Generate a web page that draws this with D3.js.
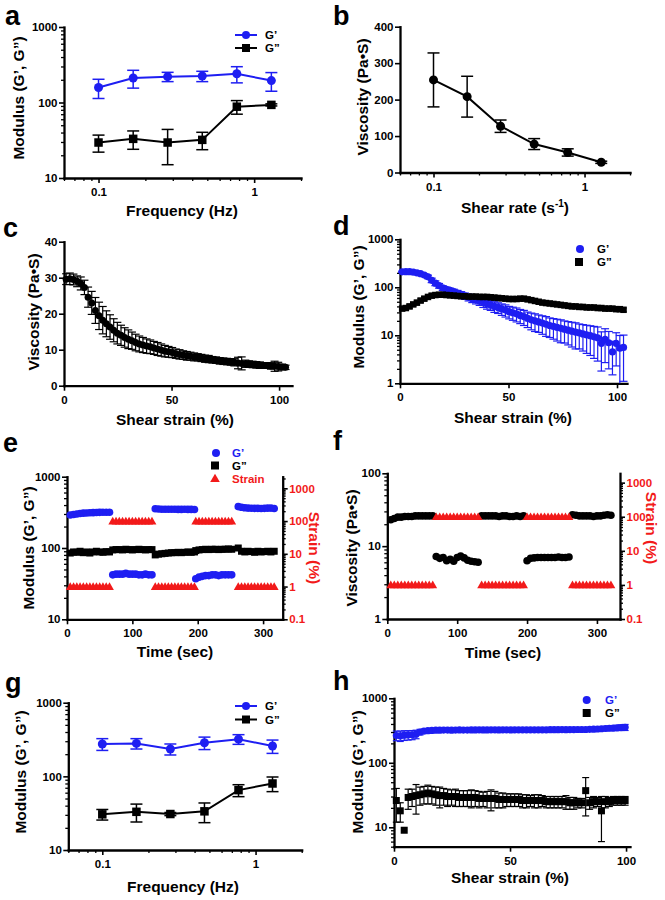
<!DOCTYPE html>
<html><head><meta charset="utf-8">
<script src="https://cdn.jsdelivr.net/npm/d3@7"></script>
<style>
body{margin:0;background:#fff;}
svg{display:block;}
text{font-family:"Liberation Sans", Arial, Helvetica, sans-serif;font-weight:bold;}
</style></head><body>
<svg id="fig" width="665" height="900"></svg>
<script>
// ---------------- DATA ----------------
// a, b, g : frequency / shear-rate sweeps
const freq = [0.1, 0.167, 0.278, 0.464, 0.774, 1.29];
const aGp = [158, 211, 220, 224, 240, 195];
const aGpSd = [45, 56, 31, 35, 58, 54];
const aGpp = [29.5, 33, 29.5, 32, 88, 93];
const aGppSd = [7.5, 9, 14.5, 8.3, 18, 3];
const bVisc = [254, 208, 127, 78, 55, 28];
const bSd = [74, 56, 17, 15, 10, 3];
const gGp = [275, 280, 235, 286, 320, 258];
const gGpSd = [50, 45, 40, 55, 48, 53];
const gGpp = [30.5, 33, 30.8, 33.5, 65, 80];
const gGppSd = [5, 9, 1.5, 10, 12, 18];

// c, d, h : strain sweeps
const sweepStrain = [1, 2.7, 4.4, 6.1, 7.8, 9.5, 11.2, 12.9, 14.6, 16.3,
  18, 19.7, 21.4, 23.1, 24.8, 26.5, 28.2, 29.9, 31.6, 33.3,
  35, 36.7, 38.4, 40.1, 41.8, 43.5, 45.2, 46.9, 48.6, 50.3,
  52, 53.7, 55.4, 57.1, 58.8, 60.5, 62.2, 63.9, 65.6, 67.3,
  69, 70.7, 72.4, 74.1, 75.8, 77.5, 79.2, 80.9, 82.6, 84.3,
  86, 87.7, 89.4, 91.1, 92.8, 94.5, 96.2, 97.9, 99.6, 101.3,
  103];
const cVisc = [29.6, 29.7, 29.5, 29.0, 28.4, 27.3, 24.6, 23.0, 20.9, 19.4,
  18.2, 17.2, 16.3, 15.4, 14.6, 14.0, 13.4, 12.9, 12.5, 12.0,
  11.6, 11.3, 11.0, 10.8, 10.5, 10.2, 9.9, 9.6, 9.4, 9.2,
  8.9, 8.7, 8.5, 8.3, 8.2, 8.0, 7.9, 7.7, 7.5, 7.4,
  7.2, 7.1, 6.9, 6.8, 6.7, 6.6, 6.5, 6.3, 6.2, 6.1,
  6.0, 5.9, 5.8, 5.7, 5.6, 5.6, 5.5, 5.4, 5.3, 5.2,
  5.1];
const cSd = [1.5, 1.6, 1.5, 1.5, 1.8, 2.0, 2.8, 3.2, 3.6, 3.8,
  3.8, 3.6, 3.4, 3.2, 3.0, 2.8, 2.7, 2.6, 2.4, 2.3,
  2.2, 2.1, 2.0, 1.9, 1.8, 1.8, 1.7, 1.6, 1.5, 1.4,
  1.3, 1.3, 1.2, 1.2, 1.1, 1.1, 1.0, 1.0, 1.0, 1.0,
  0.9, 0.9, 0.9, 0.9, 0.9, 0.9, 1.0, 1.6, 1.8, 1.0,
  0.9, 0.9, 0.9, 0.9, 0.8, 0.8, 0.9, 1.4, 1.2, 0.8,
  0.6];
const dGp = [210, 212, 212, 208, 200, 192, 180, 165, 140, 122,
  108, 97, 91, 86, 81, 76, 71, 66, 62, 58,
  55, 52, 48, 45, 43, 40, 38, 35.5, 33.5, 31,
  29.5, 28, 26, 24.5, 22.5, 21, 20, 19, 18, 17,
  16, 15.3, 14.6, 14, 13.4, 12.8, 12.2, 11.7, 11.2, 10.7,
  10.2, 9.8, 9.3, 8.9, 6.8, 8.2, 7.0, 4.5, 6.8, 5.4,
  5.6];
const dGpSd = [6, 6, 6, 7, 8, 10, 12, 14, 15, 14,
  12, 11, 10, 10, 10, 10, 10, 10, 10, 10,
  10, 10, 10, 10, 10, 10, 9.5, 9.5, 9.5, 9,
  9, 9, 8.5, 8.5, 8, 8, 8, 7.5, 7.5, 7.5,
  7, 7, 7, 7, 6.5, 6.5, 6.5, 6.5, 6, 6,
  6, 6, 6, 6, 5, 5.5, 5, 3, 4.5, 4.5,
  4.5];
const dGpp = [36, 37, 40, 44, 48, 53, 58, 63, 67, 69,
  70, 70, 69, 68, 67, 66, 65, 65, 64, 64,
  64, 63, 63, 63, 62, 61, 60, 59, 58, 57,
  57, 57, 58, 58, 56, 54, 52, 50, 48, 47,
  46, 45, 44, 43, 42, 41, 40, 40, 39, 39,
  38, 38, 38, 37, 37, 36, 36, 36, 35, 35,
  34];
const dGppSd = [3, 3, 4, 4, 5, 5, 5, 6, 6, 5,
  5, 5, 5, 4, 4, 4, 4, 4, 4, 4,
  4, 4, 4, 4, 4, 4, 3, 3, 3, 3,
  3, 3, 4, 4, 3, 3, 3, 3, 3, 3,
  3, 3, 3, 3, 3, 3, 3, 3, 3, 3,
  3, 3, 3, 3, 3, 3, 3, 3, 3, 3,
  3];
const hGp = [265, 262, 268, 270, 272, 278, 300, 310, 315, 318,
  320, 320, 322, 322, 320, 322, 323, 322, 322, 323,
  323, 324, 323, 323, 324, 324, 323, 324, 324, 323,
  324, 325, 324, 324, 325, 325, 324, 325, 325, 326,
  326, 326, 327, 326, 327, 327, 328, 328, 328, 330,
  332, 334, 337, 340, 343, 346, 349, 352, 355];
const hGpSd = [45, 48, 46, 45, 44, 42, 30, 20, 15, 12,
  10, 10, 10, 10, 10, 10, 10, 10, 10, 10,
  10, 10, 10, 10, 10, 10, 10, 10, 10, 10,
  10, 10, 10, 10, 10, 10, 10, 10, 10, 10,
  10, 10, 10, 10, 10, 10, 10, 10, 10, 12,
  15, 18, 20, 25, 28, 30, 32, 35, 38];
const hGpp = [26, 18, 9, 29, 30, 31, 32, 33, 34, 33,
  32, 31, 31, 30, 30, 30, 29, 29, 29, 29,
  29, 28, 28, 28, 28, 28, 27, 27, 27, 27,
  27, 27, 26, 26, 26, 26, 26, 26, 25, 25,
  25, 25, 25, 25, 24, 24, 24, 24, 37, 24,
  25, 25, 18, 25, 25, 26, 26, 26, 26];
const hGppSd = [14, 6, 0, 10, 9, 15, 10, 10, 11, 10,
  10, 11, 9, 9, 8, 9, 8, 8, 8, 9,
  8, 8, 7, 8, 10, 8, 7, 7, 6, 6,
  6, 6, 6, 6, 5, 6, 6, 5, 5, 5,
  5, 5, 5, 6, 5, 5, 4, 4, 22, 5,
  5, 4, 12, 5, 4, 4, 4, 4, 4];

// e, f : step-strain time sweeps
const eTime = [5, 10, 15, 20, 25, 30, 35, 40, 45, 50, 55, 60, 65,
  70, 75, 80, 85, 90, 95, 100, 105, 110, 115, 120, 125, 130,
  135, 140, 145, 150, 155, 160, 165, 170, 175, 180, 185, 190, 195,
  197, 202, 207, 212, 217, 222, 227, 232, 237, 242, 247, 252,
  262, 267, 272, 277, 282, 287, 292, 297, 302, 307, 312, 317];
const eGp = [290, 295, 300, 305, 308, 310, 312, 313, 315, 316, 317, 318, 318,
  42, 43, 43, 43, 44, 43, 43, 43, 42, 42, 43, 42, 42,
  355, 352, 350, 350, 350, 349, 350, 348, 348, 349, 348, 348, 347,
  37, 39, 40, 41, 41, 42, 42, 41, 42, 42, 42, 42,
  380, 372, 366, 363, 361, 360, 360, 358, 360, 362, 363, 358];
const eGpp = [85, 88, 87, 90, 86, 88, 85, 88, 90, 88, 87, 89, 88,
  94, 95, 95, 94, 96, 95, 94, 95, 96, 95, 94, 95, 95,
  80, 82, 83, 84, 85, 86, 86, 87, 86, 87, 88, 87, 88,
  92, 94, 95, 96, 95, 96, 96, 95, 96, 96, 97, 96,
  100, 90, 88, 90, 89, 87, 90, 88, 89, 90, 88, 90];
const eStrain = [1, 1, 1, 1, 1, 1, 1, 1, 1, 1, 1, 1, 1,
  100, 100, 100, 100, 100, 100, 100, 100, 100, 100, 100, 100, 100,
  1, 1, 1, 1, 1, 1, 1, 1, 1, 1, 1, 1, 1,
  100, 100, 100, 100, 100, 100, 100, 100, 100, 100, 100, 100,
  1, 1, 1, 1, 1, 1, 1, 1, 1, 1, 1, 1];
const fTime = [5, 10, 15, 20, 25, 30, 35, 40, 45, 50, 55, 60, 65,
  70, 75, 80, 85, 90, 95, 100, 105, 110, 115, 120, 125, 130,
  135, 140, 145, 150, 155, 160, 165, 170, 175, 180, 185, 190, 195,
  200, 205, 210, 215, 220, 225, 230, 235, 240, 245, 250, 255, 260,
  265, 270, 275, 280, 285, 290, 295, 300, 305, 310, 315, 320];
const fVisc = [23, 24, 25, 25, 25.5, 25.5, 25.5, 26, 26, 26, 26, 26, 26,
  7.2, 6.8, 7.0, 6.3, 6.6, 6.2, 7.0, 7.3, 6.9, 6.4, 6.2, 6.1, 6.0,
  26, 26, 26, 26, 26, 25.5, 26, 26, 25.5, 25.5, 26, 25.5, 26,
  6.3, 6.8, 6.9, 7.0, 7.0, 7.0, 7.0, 7.0, 7.0, 7.1, 7.0, 7.0, 7.1,
  27, 26.5, 26, 26, 26, 26, 25.5, 26, 26, 26.5, 27, 26.5];
const fStrain = [1, 1, 1, 1, 1, 1, 1, 1, 1, 1, 1, 1, 1,
  100, 100, 100, 100, 100, 100, 100, 100, 100, 100, 100, 100, 100,
  1, 1, 1, 1, 1, 1, 1, 1, 1, 1, 1, 1, 1,
  100, 100, 100, 100, 100, 100, 100, 100, 100, 100, 100, 100, 100,
  1, 1, 1, 1, 1, 1, 1, 1, 1, 1, 1, 1];

// tick labels
const freqTicks = [0.1, 1];
const modTicks = [10, 100, 1000];
const modTicksD = [1, 10, 100, 1000];
const viscTicksB = [0, 100, 200, 300, 400];
const viscTicksC = [0, 10, 20, 30, 40];
const viscTicksF = [1, 10, 100];
const strainTicks = [0, 50, 100];
const timeTicks = [0, 100, 200, 300];
const strainPctTicks = [0.1, 1, 10, 100, 1000];

// ---------------- HELPERS ----------------
const svg = d3.select("#fig");
const BLUE = "#1e1ef2", RED = "#f21a1a", BLACK = "#000";
const FT_TICK = 11.5, FT_TITLE = 15.5, FT_LET = 27, FT_LEG = 11.5;

function logMinors(dom) {
  const out = [];
  const lo = Math.floor(Math.log10(dom[0])) - 1, hi = Math.ceil(Math.log10(dom[1]));
  for (let e = lo; e <= hi; e++) for (let m = 2; m <= 9; m++) {
    const v = +(m * Math.pow(10, e)).toPrecision(6);
    if (v >= dom[0] * 0.9999 && v <= dom[1] * 1.0001) out.push(v);
  }
  return out;
}
const fmt = d => String(d);

function axis(kind, scale, pos, majors, minors, color) {
  const gen = kind === "left" ? d3.axisLeft : kind === "right" ? d3.axisRight : d3.axisBottom;
  const g = svg.append("g").attr("transform", kind === "bottom" ? `translate(0,${pos})` : `translate(${pos},0)`);
  if (minors) {
    const m = g.append("g").call(gen(scale).tickValues(minors).tickSize(3).tickSizeOuter(0).tickFormat(""));
    m.select(".domain").remove();
    m.selectAll(".tick line").attr("stroke", "#000").attr("stroke-width", 1.3);
  }
  const a = g.append("g").call(gen(scale).tickValues(majors).tickSize(5)
    .tickPadding(kind === "bottom" ? 5 : 1.5).tickSizeOuter(0).tickFormat(fmt));
  a.select(".domain").attr("stroke", "#000").attr("stroke-width", 2.3).attr("stroke-linecap", "square");
  a.selectAll(".tick line").attr("stroke", "#000").attr("stroke-width", 1.6);
  a.selectAll(".tick text").attr("font-size", FT_TICK).attr("fill", color || "#000");
  return g;
}
function text(x, y, s, o = {}) {
  const t = svg.append("text").attr("x", x).attr("y", y).text(s)
    .attr("font-size", o.size || FT_TITLE).attr("fill", o.color || "#000")
    .attr("text-anchor", o.anchor || "start");
  if (o.rot) t.attr("transform", `rotate(${o.rot},${x},${y})`);
  return t;
}
function errBars(xs, ys, sds, x, y, color, cap, yMin, sw) {
  const g = svg.append("g").attr("stroke", color).attr("stroke-width", sw || 1.5);
  xs.forEach((xv, i) => {
    const s = sds[i];
    if (!s) return;
    let lo = ys[i] - s, clipped = false;
    if (lo < yMin) { lo = yMin; clipped = true; }
    const px = x(xv), yh = y(ys[i] + s), yl = y(lo);
    g.append("line").attr("x1", px).attr("x2", px).attr("y1", yl).attr("y2", yh);
    g.append("line").attr("x1", px - cap).attr("x2", px + cap).attr("y1", yh).attr("y2", yh);
    if (!clipped) g.append("line").attr("x1", px - cap).attr("x2", px + cap).attr("y1", yl).attr("y2", yl);
  });
}
function lineP(xs, ys, x, y, color, w) {
  svg.append("path").datum(xs.map((v, i) => [v, ys[i]]))
    .attr("d", d3.line().x(d => x(d[0])).y(d => y(d[1])))
    .attr("fill", "none").attr("stroke", color).attr("stroke-width", w || 2);
}
function circles(xs, ys, x, y, color, r) {
  svg.append("g").selectAll("circle").data(xs).join("circle")
    .attr("cx", (d) => x(d)).attr("cy", (d, i) => y(ys[i])).attr("r", r).attr("fill", color);
}
function squares(xs, ys, x, y, color, s) {
  svg.append("g").selectAll("rect").data(xs).join("rect")
    .attr("x", d => x(d) - s / 2).attr("y", (d, i) => y(ys[i]) - s / 2)
    .attr("width", s).attr("height", s).attr("fill", color);
}
function triangles(xs, ys, x, y, color, size) {
  const sym = d3.symbol(d3.symbolTriangle, size);
  svg.append("g").selectAll("path").data(xs).join("path")
    .attr("transform", (d, i) => `translate(${x(d)},${y(ys[i]) + 0.8})`)
    .attr("d", sym).attr("fill", color);
}
function legLine(x0, x1, y, color, shape) {
  svg.append("line").attr("x1", x0).attr("x2", x1).attr("y1", y).attr("y2", y).attr("stroke", color).attr("stroke-width", 2);
  legMark((x0 + x1) / 2, y, color, shape);
}
function legMark(cx, cy, color, shape) {
  if (shape === "c") svg.append("circle").attr("cx", cx).attr("cy", cy).attr("r", 4).attr("fill", color);
  else if (shape === "s") svg.append("rect").attr("x", cx - 4).attr("y", cy - 4).attr("width", 8).attr("height", 8).attr("fill", color);
  else svg.append("path").attr("transform", `translate(${cx},${cy + 0.8})`).attr("d", d3.symbol(d3.symbolTriangle, 40)).attr("fill", color);
}
function shearRateTitle(x, y) {
  const t = svg.append("text").attr("x", x).attr("y", y).attr("font-size", FT_TITLE).attr("text-anchor", "middle");
  t.append("tspan").text("Shear rate (s");
  t.append("tspan").text("-1").attr("font-size", 10).attr("dy", -6);
  t.append("tspan").text(")").attr("dy", 6);
}

// ---------------- PANEL a ----------------
{
  const x = d3.scaleLog().domain([0.06, 2]).range([64, 301]);
  const y = d3.scaleLog().domain([10, 1000]).range([178, 27]);
  axis("bottom", x, 178, freqTicks, logMinors(x.domain()));
  axis("left", y, 64, modTicks, logMinors(y.domain()));
  lineP(freq, aGp, x, y, BLUE); errBars(freq, aGp, aGpSd, x, y, BLUE, 6, 10); circles(freq, aGp, x, y, BLUE, 4.5);
  lineP(freq, aGpp, x, y, BLACK); errBars(freq, aGpp, aGppSd, x, y, BLACK, 6, 10); squares(freq, aGpp, x, y, BLACK, 8.5);
  legLine(235, 257, 35, BLUE, "c"); text(265, 39, "G’", { size: FT_LEG });
  legLine(235, 257, 48, BLACK, "s"); text(265, 52, "G”", { size: FT_LEG });
  text(182, 216, "Frequency (Hz)", { anchor: "middle" });
  text(23.5, 98, "Modulus (G’, G”)", { anchor: "middle", rot: -90 });
  text(5, 25, "a", { size: FT_LET });
}
// ---------------- PANEL b ----------------
{
  const x = d3.scaleLog().domain([0.06, 2]).range([400, 630]);
  const y = d3.scaleLinear().domain([0, 400]).range([172.5, 26.7]);
  axis("bottom", x, 172.5, freqTicks, logMinors(x.domain()));
  axis("left", y, 400, viscTicksB, null);
  lineP(freq, bVisc, x, y, BLACK); errBars(freq, bVisc, bSd, x, y, BLACK, 6, 0); circles(freq, bVisc, x, y, BLACK, 4.5);
  shearRateTitle(515, 213);
  text(368, 97, "Viscosity (Pa•S)", { anchor: "middle", rot: -90 });
  text(333, 25, "b", { size: FT_LET });
}
// ---------------- PANEL c ----------------
{
  const x = d3.scaleLinear().domain([0, 106]).range([64, 292]);
  const y = d3.scaleLinear().domain([0, 40]).range([385.7, 241.7]);
  axis("bottom", x, 385.7, strainTicks, null);
  axis("left", y, 64, viscTicksC, null);
  errBars(sweepStrain, cVisc, cSd, x, y, BLACK, 4, 0, 1.2); circles(sweepStrain, cVisc, x, y, BLACK, 3.5);
  text(175, 425, "Shear strain (%)", { anchor: "middle" });
  text(38.5, 312, "Viscosity (Pa•S)", { anchor: "middle", rot: -90 });
  text(3, 237, "c", { size: FT_LET });
}
// ---------------- PANEL d ----------------
{
  const x = d3.scaleLinear().domain([0, 104.6]).range([400, 627]);
  const y = d3.scaleLog().domain([1, 1000]).range([383.3, 239.3]);
  axis("bottom", x, 383.3, strainTicks, null);
  axis("left", y, 400, modTicksD, logMinors(y.domain()));
  errBars(sweepStrain, dGp, dGpSd, x, y, BLUE, 4, 1, 1.2); circles(sweepStrain, dGp, x, y, BLUE, 3.6);
  errBars(sweepStrain, dGpp, dGppSd, x, y, BLACK, 3, 1, 1.2); squares(sweepStrain, dGpp, x, y, BLACK, 6.5);
  legMark(580, 249, BLUE, "c"); text(597, 253, "G’", { size: FT_LEG });
  legMark(579, 262, BLACK, "s"); text(597, 266, "G”", { size: FT_LEG });
  text(513, 423, "Shear strain (%)", { anchor: "middle" });
  text(364, 307, "Modulus (G’, G”)", { anchor: "middle", rot: -90 });
  text(333, 235, "d", { size: FT_LET });
}
// ---------------- PANEL e ----------------
{
  const x = d3.scaleLinear().domain([0, 330]).range([67, 282.7]);
  const y = d3.scaleLog().domain([10, 1000]).range([619.3, 476.7]);
  const y2 = d3.scaleLog().domain([0.1, 2264]).range([619.3, 476.7]);
  axis("bottom", x, 619.3, timeTicks, null);
  axis("left", y, 67, modTicks, logMinors(y.domain()));
  axis("right", y2, 282.7, strainPctTicks, logMinors(y2.domain()), RED);
  circles(eTime, eGp, x, y, BLUE, 3.8);
  squares(eTime, eGpp, x, y, BLACK, 7);
  triangles(eTime, eStrain, x, y2, RED, 34);
  legMark(216, 453, BLUE, "c"); text(232, 457, "G’", { size: FT_LEG, color: BLUE });
  legMark(215, 465.5, BLACK, "s"); text(232, 469.5, "G”", { size: FT_LEG });
  legMark(215, 478.5, RED, "t"); text(232, 482.5, "Strain", { size: FT_LEG, color: RED });
  text(175, 657, "Time (sec)", { anchor: "middle" });
  text(34, 548, "Modulus (G’, G”)", { anchor: "middle", rot: -90 });
  text(309, 548, "Strain (%)", { anchor: "middle", rot: 90, color: RED });
  text(3, 452, "e", { size: FT_LET });
}
// ---------------- PANEL f ----------------
{
  const x = d3.scaleLinear().domain([0, 333]).range([387.3, 620]);
  const y = d3.scaleLog().domain([1, 100]).range([619, 473.3]);
  const y2 = d3.scaleLog().domain([0.1, 1880]).range([619, 473.3]);
  axis("bottom", x, 619, timeTicks, null);
  axis("left", y, 387.3, viscTicksF, logMinors(y.domain()));
  axis("right", y2, 620, strainPctTicks, logMinors(y2.domain()), RED);
  circles(fTime, fVisc, x, y, BLACK, 3.8);
  triangles(fTime, fStrain, x, y2, RED, 34);
  text(503, 658, "Time (sec)", { anchor: "middle" });
  text(357, 548, "Viscosity (Pa•S)", { anchor: "middle", rot: -90 });
  text(646, 528, "Strain (%)", { anchor: "middle", rot: 90, color: RED });
  text(333, 450, "f", { size: FT_LET });
}
// ---------------- PANEL g ----------------
{
  const x = d3.scaleLog().domain([0.06, 2]).range([68.3, 301.7]);
  const y = d3.scaleLog().domain([10, 1000]).range([850, 702.7]);
  axis("bottom", x, 850, freqTicks, logMinors(x.domain()));
  axis("left", y, 68.3, modTicks, logMinors(y.domain()));
  lineP(freq, gGp, x, y, BLUE); errBars(freq, gGp, gGpSd, x, y, BLUE, 6, 10); circles(freq, gGp, x, y, BLUE, 4.5);
  lineP(freq, gGpp, x, y, BLACK); errBars(freq, gGpp, gGppSd, x, y, BLACK, 6, 10); squares(freq, gGpp, x, y, BLACK, 8.5);
  legLine(235, 257, 706, BLUE, "c"); text(265, 710, "G’", { size: FT_LEG });
  legLine(235, 257, 719.5, BLACK, "s"); text(265, 723.5, "G”", { size: FT_LEG });
  text(183, 892, "Frequency (Hz)", { anchor: "middle" });
  text(25.5, 772, "Modulus (G’, G”)", { anchor: "middle", rot: -90 });
  text(5, 692, "g", { size: FT_LET });
}
// ---------------- PANEL h ----------------
{
  const hStrain = sweepStrain.slice(0, 59);
  const x = d3.scaleLinear().domain([0, 101.7]).range([394, 630]);
  const y = d3.scaleLog().domain([5, 1000]).range([846.7, 698.3]);
  axis("bottom", x, 846.7, strainTicks, null);
  axis("left", y, 394, modTicks, logMinors(y.domain()));
  errBars(hStrain, hGp, hGpSd, x, y, BLUE, 3.5, 5, 1.2); circles(hStrain, hGp, x, y, BLUE, 3.6);
  errBars(hStrain, hGpp, hGppSd, x, y, BLACK, 3.5, 5, 1.2); squares(hStrain, hGpp, x, y, BLACK, 7);
  legMark(586.7, 700, BLUE, "c"); text(605, 704, "G’", { size: FT_LEG, color: BLUE });
  legMark(586.7, 713, BLACK, "s"); text(605, 717, "G”", { size: FT_LEG });
  text(510, 883, "Shear strain (%)", { anchor: "middle" });
  text(363, 772, "Modulus (G’, G”)", { anchor: "middle", rot: -90 });
  text(333, 690, "h", { size: FT_LET });
}
</script></body></html>
